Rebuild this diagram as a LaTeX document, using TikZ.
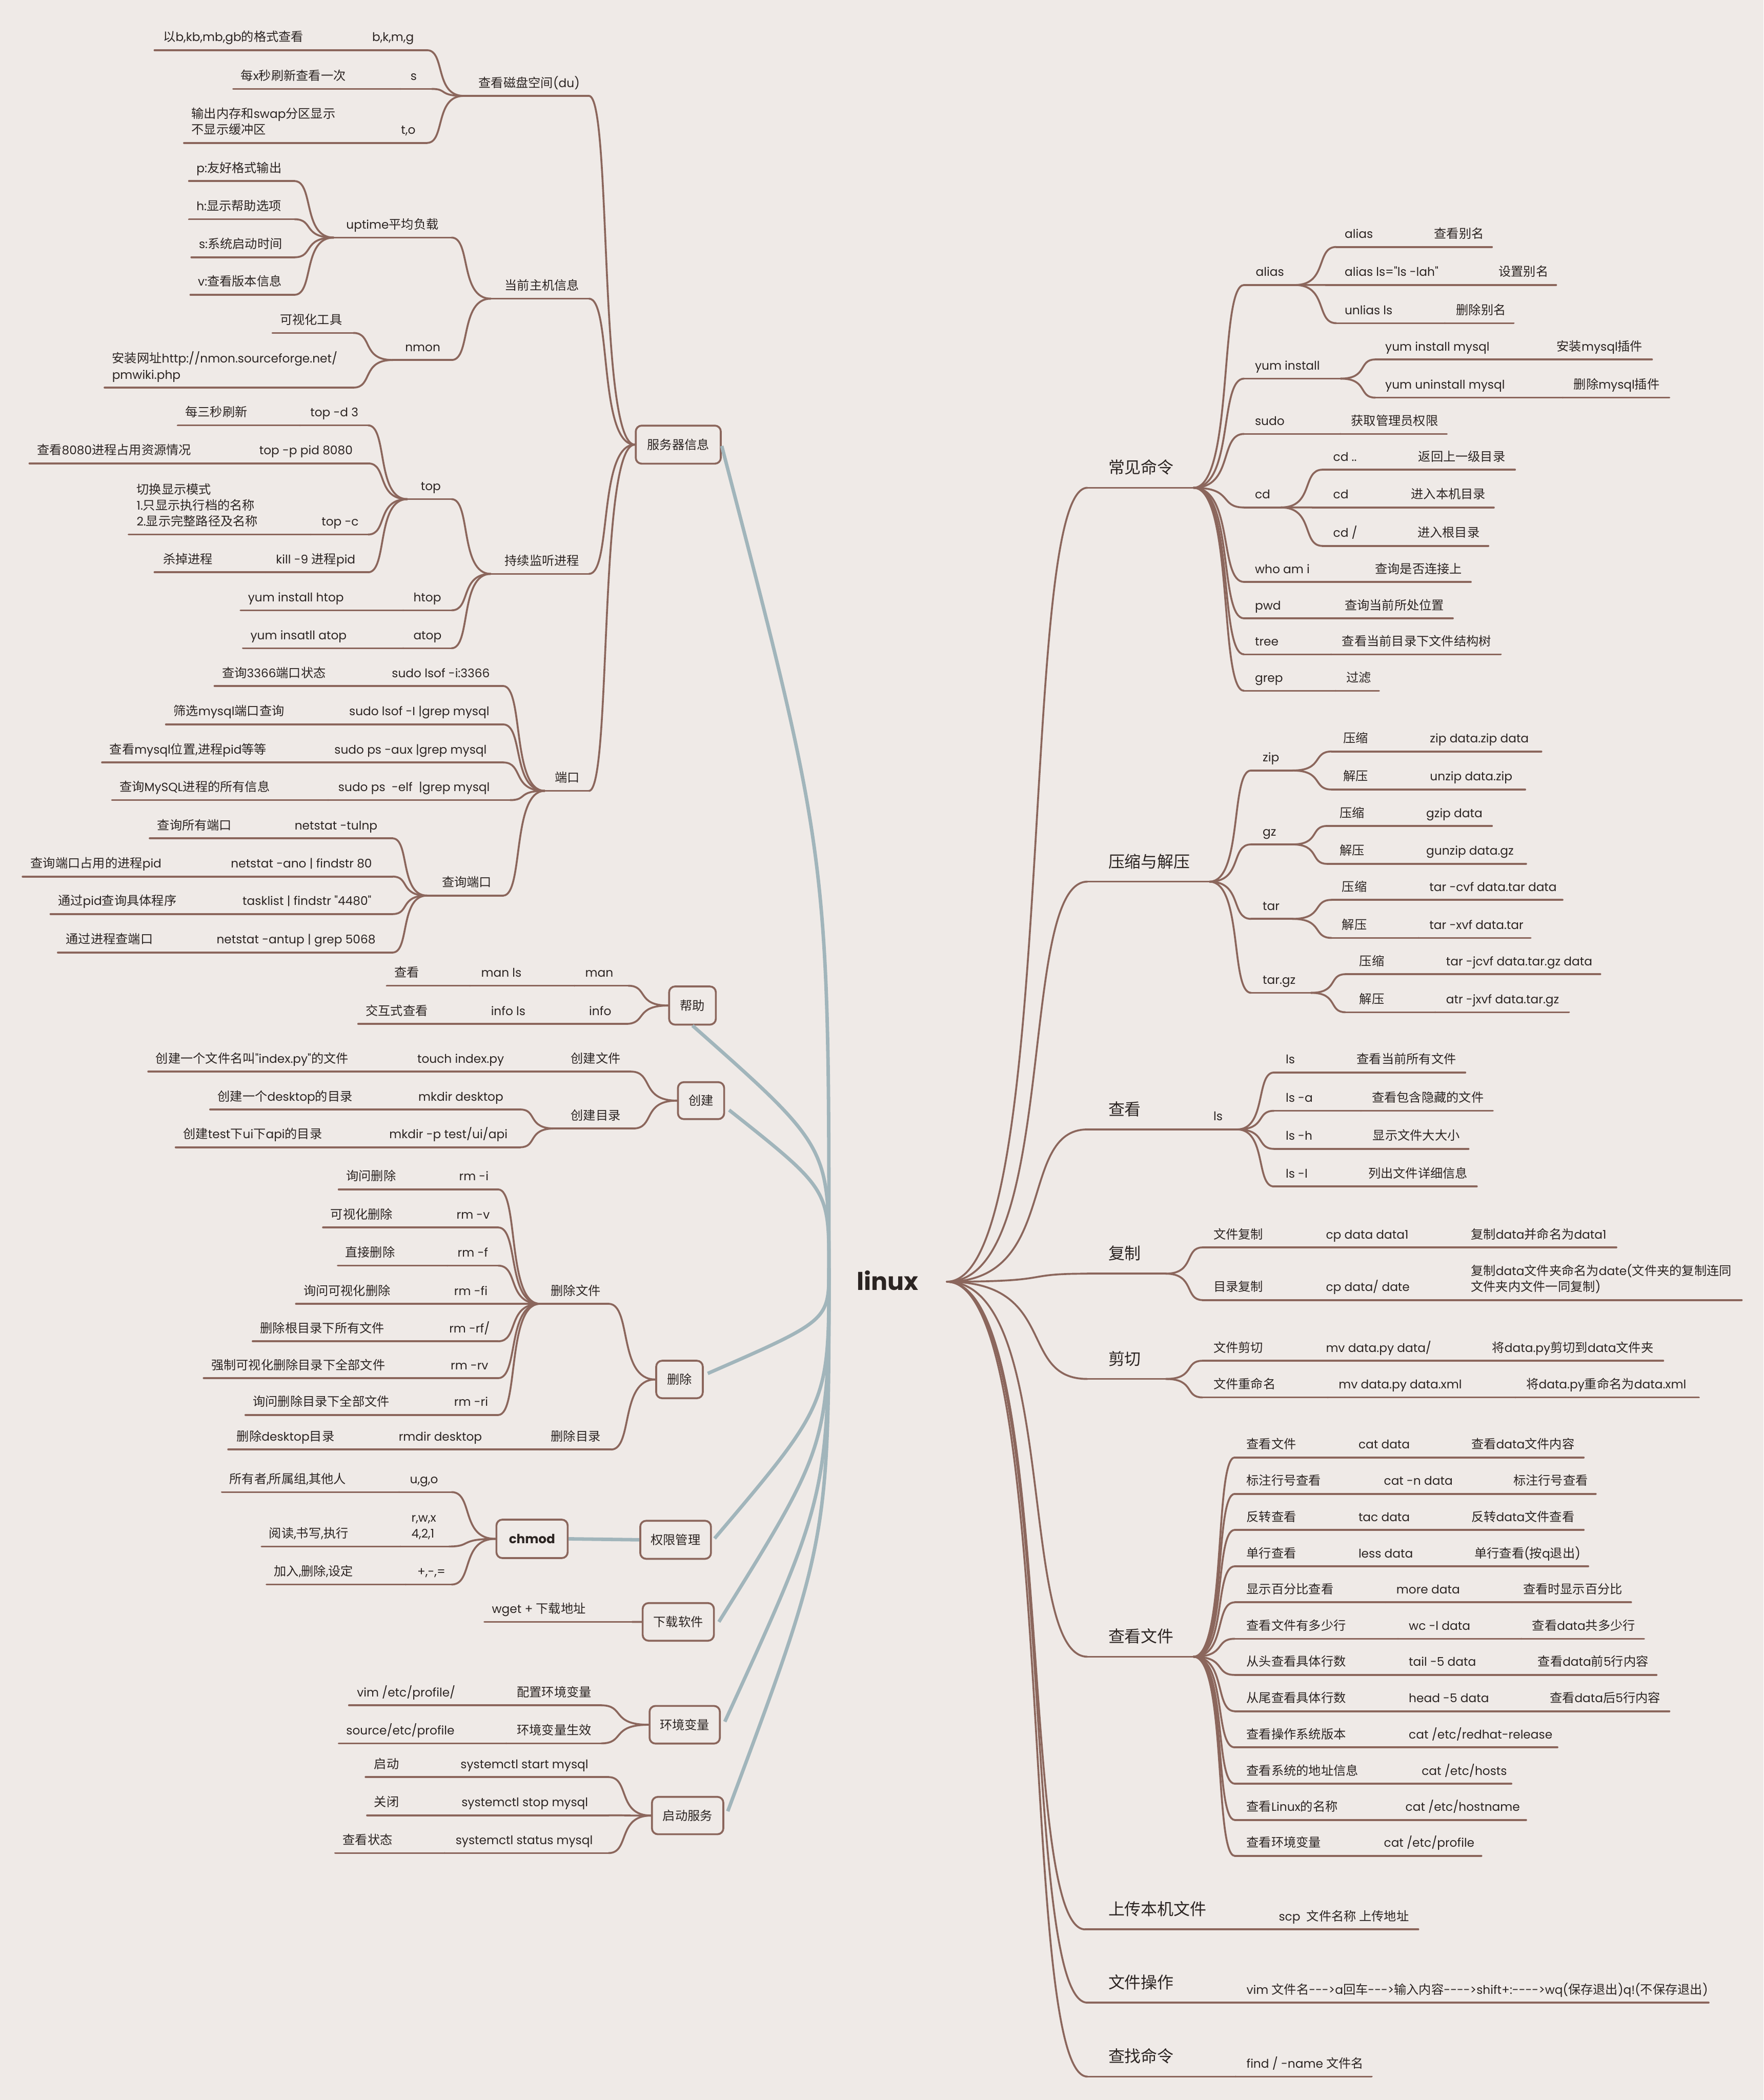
\documentclass[tikz,border=0pt]{standalone}
\usepackage{fontspec}
\setmainfont{Noto Sans CJK SC}
\newfontfamily\latfam{Poppins}[Scale=0.96]
\usetikzlibrary{calc}
\XeTeXinterchartokenstate=1
\newcount\cjkc
\def\setcjk#1#2{\cjkc=#1\relax\loop\XeTeXcharclass\cjkc=10\relax\advance\cjkc by 1\relax\ifnum\cjkc<#2\repeat}
\setcjk{"4E00}{"A000}
\setcjk{"3000}{"3040}
\setcjk{"FF00}{"FFF0}
\XeTeXinterchartoks 4095 0 = {\latfam}
\XeTeXinterchartoks 10 0 = {\latfam}
\XeTeXinterchartoks 0 10 = {\rmfamily}
\XeTeXinterchartoks 4095 10 = {\rmfamily}
\definecolor{bgc}{HTML}{EFEAE7}
\definecolor{brn}{HTML}{8B665C}
\definecolor{blu}{HTML}{A1B5BB}
\definecolor{ink}{HTML}{2B2422}
\newcommand\hy{-\kern0pt}
\newcommand\ml[1]{\begin{tabular}[b]{@{}l@{}}#1\end{tabular}}
\tikzset{
  br/.style={draw=brn, line width=2pt, line cap=round, line join=round},
  bl/.style={draw=blu, line width=3.7pt},
  smt/.style={font=\fontsize{13.2}{17}\selectfont, text=ink, inner sep=0pt, anchor=base west},
  bgt/.style={font=\fontsize{17.4}{21}\selectfont, text=ink, inner sep=0pt, anchor=base west},
  bx/.style={draw=brn, line width=2pt, rounded corners=0.22cm, fill=bgc, inner sep=0pt,
    font=\fontsize{13.2}{17}\selectfont, text=ink},
  crv/.style={to path={.. controls ($(\tikztostart)!0.8!(\tikztostart -| \tikztotarget)$) and ($(\tikztotarget)!0.5!(\tikztotarget -| \tikztostart)$) .. (\tikztotarget)}}
}
\newcommand\ns[6]{\coordinate (#1-l) at (#2,#4);\coordinate (#1-r) at (#3,#4);\draw[br] (#1-l) -- (#1-r);\node[smt] (#1) at (#5,#4-6.5) {#6};}
\newcommand\nb[6]{\coordinate (#1-l) at (#2,#4);\coordinate (#1-r) at (#3,#4);\draw[br] (#1-l) -- (#1-r);\node[bgt] (#1) at (#5,#4-10.5) {#6};}
\newcommand\cv[2]{\draw[br] (#1) to[crv] (#2);}
\newcommand\cvs[2]{\foreach \q in {#2}{\cv{#1}{\q-l}}}
\newcommand\cvl[2]{\foreach \q in {#2}{\cv{#1}{\q-r}}}
\newcommand\bxn[6]{\node[bx, minimum width=#4*0.05cm-0.05cm, minimum height=#5*0.05cm-0.05cm] (#1) at (#2,#3) {#6};}
\begin{document}
\begin{tikzpicture}[x=0.05cm,y=-0.05cm]
\useasboundingbox (0,0) rectangle (1317,1568);
\fill[bgc] (0,0) rectangle (1317,1568);

% ---------- centre ----------
\node[font=\fontsize{27}{30}\selectfont\bfseries, text=ink, inner sep=0pt, anchor=base west] (linux) at (639.6,963.4) {linux};
\coordinate (lx) at (707,957);
\coordinate (O) at (619,947);

% ---------- boxes (left) ----------
\bxn{fwq}{506.5}{332}{64.5}{29.4}{服务器信息}
\bxn{bz}{517.1}{750.8}{35.9}{29.5}{帮助}
\bxn{cjb}{523.5}{821.8}{35.5}{28.6}{创建}
\bxn{scb}{507.4}{1030}{35.8}{29}{删除}
\bxn{qx}{504.5}{1149.7}{53.8}{29.4}{权限管理}
\bxn{chm}{397.3}{1149}{54.2}{29.7}{\fontsize{14}{17}\selectfont\bfseries chmod}
\bxn{xz}{506.5}{1211}{54.2}{29.1}{下载软件}
\bxn{hj}{511.3}{1287.8}{53.5}{29.1}{环境变量}
\bxn{qd}{513.5}{1355.6}{54.3}{28.9}{启动服务}

\coordinate (fwq-e) at ($(fwq.east)+(0,1)$);
\coordinate (bz-e) at (bz.south);
\coordinate (cjb-e) at ($(cjb.east)+(3,7)$);
\coordinate (scb-e) at ($(scb.east)+(3,-4.5)$);
\coordinate (qx-e) at ($(qx.east)+(2,-1)$);
\coordinate (xz-e) at ($(xz.east)+(3,0)$);
\coordinate (hj-e) at ($(hj.east)+(3,-2.3)$);
\coordinate (qd-e) at ($(qd.east)+(2.6,-3.2)$);
\draw[bl] (O) .. controls (619,640) .. (fwq-e);
\draw[bl] (O) .. controls (619,856) .. (bz-e);
\draw[bl] (O) .. controls (619,888) .. (cjb-e);
\draw[bl] (O) .. controls (619,986) .. (scb-e);
\draw[bl] (O) .. controls (619,1048) .. (qx-e);
\draw[bl] (O) .. controls (619,1079) .. (xz-e);
\draw[bl] (O) .. controls (619,1116) .. (hj-e);
\draw[bl] (O) .. controls (619,1150) .. (qd-e);
\draw[bl] (chm.east) -- (qx.west);

% ---------- right branches ----------
\nb{cj}{812}{891.2}{364.2}{827.5}{常见命令}
\nb{ys}{812}{903.2}{658.3}{827.5}{压缩与解压}
\nb{ck}{812}{895}{843.3}{827.5}{查看}
\nb{fz}{812}{870.5}{951}{827.5}{复制}
\nb{jq}{812}{870.5}{1029.6}{827.5}{剪切}
\nb{ckwj}{812}{891.2}{1237}{827.5}{查看文件}
\nb{scbj}{810.3}{946.8}{1440.6}{827.5}{上传本机文件}
\nb{wjcz}{812}{922.7}{1495.3}{827.5}{文件操作}
\nb{czml}{812}{922.7}{1550.5}{827.5}{查找命令}
\cvs{lx}{cj,ys,ck,fz,jq,ckwj,scbj,wjcz,czml}

% 常见命令
\ns{a1}{929}{967}{212.8}{937.6}{alias}
\ns{a2}{997.8}{1062}{184.4}{1004}{alias}
\ns{a2d}{1062}{1114.1}{184.4}{1070.8}{查看别名}
\ns{a3}{990}{1111}{212.8}{1004}{alias ls="ls -lah"}
\ns{a3d}{1111}{1162}{212.8}{1119}{设置别名}
\ns{a4}{997.8}{1079}{241.3}{1004}{unlias ls}
\ns{a4d}{1079}{1130.3}{241.3}{1087.3}{删除别名}
\ns{y1}{929}{1001}{282.7}{937}{yum install}
\ns{y2}{1027}{1154}{268.4}{1034.3}{yum install mysql}
\ns{y2d}{1154}{1233.6}{268.4}{1162.3}{安装mysql插件}
\ns{y3}{1027}{1167}{296.9}{1034.3}{yum uninstall mysql}
\ns{y3d}{1167}{1246.6}{296.9}{1175}{删除mysql插件}
\ns{su}{929}{1000.8}{324}{937}{sudo}
\ns{sud}{1000.8}{1080.4}{324}{1008.8}{获取管理员权限}
\ns{cd1}{929}{956.5}{378.9}{937}{cd}
\ns{cd2}{987.5}{1051}{350.7}{995.4}{cd ..}
\ns{cd2d}{1051}{1131.3}{350.7}{1059}{返回上一级目录}
\ns{cd3}{980}{1045.6}{378.9}{995.4}{cd}
\ns{cd3d}{1045.6}{1115.5}{378.9}{1053.6}{进入本机目录}
\ns{cd4}{987.5}{1050.4}{407.6}{995.4}{cd /}
\ns{cd4d}{1050.4}{1111.4}{407.6}{1058.4}{进入根目录}
\ns{wh}{929}{1018.7}{434.5}{937}{who am i}
\ns{whd}{1018.7}{1098.3}{434.5}{1026.7}{查询是否连接上}
\ns{pw}{929}{996}{461.7}{937}{pwd}
\ns{pwx}{996}{1084.9}{461.7}{1004}{查询当前所处位置}
\ns{tr}{929}{994}{488.6}{937}{tree}
\ns{trd}{994}{1120.7}{488.6}{1002}{查看当前目录下文件结构树}
\ns{gr}{929}{997.4}{515.8}{937}{grep}
\ns{grd}{997.4}{1029.8}{515.8}{1005.4}{过滤}
\cvs{cj-r}{a1,y1,su,cd1,wh,pw,tr,gr}
\cvs{a1-r}{a2,a3,a4}\cvs{a2-r}{a2d}\cvs{a3-r}{a3d}\cvs{a4-r}{a4d}
\cvs{y1-r}{y2,y3}\cvs{y2-r}{y2d}\cvs{y3-r}{y3d}
\cvs{su-r}{sud}
\cvs{cd1-r}{cd2,cd3,cd4}\cvs{cd2-r}{cd2d}\cvs{cd3-r}{cd3d}\cvs{cd4-r}{cd4d}
\cvs{wh-r}{whd}\cvs{pw-r}{pwx}\cvs{tr-r}{trd}\cvs{gr-r}{grd}

% 压缩与解压
\ns{zp}{934.2}{965.1}{575.3}{942.8}{zip}
\ns{zp1}{994.4}{1059.7}{561.1}{1003}{压缩}
\ns{zp1d}{1059.7}{1151}{561.1}{1067.7}{zip data.zip data}
\ns{zp2}{994.4}{1059.7}{589.5}{1003}{解压}
\ns{zp2d}{1059.7}{1138.9}{589.5}{1067.7}{unzip data.zip}
\ns{gz}{934.2}{965.1}{630.5}{942.8}{gz}
\ns{gz1}{991}{1056.9}{616.7}{1000.2}{压缩}
\ns{gz1d}{1056.9}{1114.1}{616.7}{1064.9}{gzip data}
\ns{gz2}{991}{1056.9}{645}{1000.2}{解压}
\ns{gz2d}{1056.9}{1139.6}{645}{1064.9}{gunzip data.gz}
\ns{ta}{934.2}{965.1}{686.1}{942.8}{tar}
\ns{ta1}{994.4}{1059.3}{671.9}{1002}{压缩}
\ns{ta1d}{1059.3}{1166.8}{671.9}{1067.3}{tar -cvf data.tar data}
\ns{ta2}{994.4}{1059.3}{700.3}{1002}{解压}
\ns{ta2d}{1059.3}{1143}{700.3}{1067.3}{tar -xvf data.tar}
\ns{tg}{934.2}{978.9}{741.3}{942.8}{tar.gz}
\ns{tg1}{1004.7}{1071.7}{727.4}{1015}{压缩}
\ns{tg1d}{1071.7}{1195}{727.4}{1079.7}{tar -jcvf data.tar.gz data}
\ns{tg2}{1004.7}{1071.7}{755.8}{1015}{解压}
\ns{tg2d}{1071.7}{1171.6}{755.8}{1079.7}{atr -jxvf data.tar.gz}
\cvs{ys-r}{zp,gz,ta,tg}
\cvs{zp-r}{zp1,zp2}\cvs{zp1-r}{zp1d}\cvs{zp2-r}{zp2d}
\cvs{gz-r}{gz1,gz2}\cvs{gz1-r}{gz1d}\cvs{gz2-r}{gz2d}
\cvs{ta-r}{ta1,ta2}\cvs{ta1-r}{ta1d}\cvs{ta2-r}{ta2d}
\cvs{tg-r}{tg1,tg2}\cvs{tg1-r}{tg1d}\cvs{tg2-r}{tg2d}

% 查看
\ns{ls0}{895}{923.8}{843.3}{906}{ls}
\ns{ls1}{951.4}{1005}{800.8}{960}{ls}
\ns{ls1d}{1005}{1094.2}{800.8}{1013}{查看当前所有文件}
\ns{ls2}{951.4}{1016.3}{829.4}{960}{ls -a}
\ns{ls2d}{1016.3}{1114.8}{829.4}{1024.3}{查看包含隐藏的文件}
\ns{ls3}{951.4}{1017}{857.8}{960}{ls -h}
\ns{ls3d}{1017}{1096.6}{857.8}{1025}{显示文件大大小}
\ns{ls4}{951.4}{1013.6}{885.9}{960}{ls -l}
\ns{ls4d}{1013.6}{1102.8}{885.9}{1021.6}{列出文件详细信息}
\cvs{ck-r}{ls0}
\cvs{ls0-r}{ls1,ls2,ls3,ls4}\cvs{ls1-r}{ls1d}\cvs{ls2-r}{ls2d}\cvs{ls3-r}{ls3d}\cvs{ls4-r}{ls4d}

% 复制
\ns{fz1}{898}{982}{931.4}{906}{文件复制}
\ns{fz1a}{982}{1090.3}{931.4}{990}{cp data data1}
\ns{fz1b}{1090.3}{1207}{931.4}{1098.3}{复制data并命名为data1}
\ns{fz2}{898}{982}{970.7}{906}{目录复制}
\ns{fz2a}{982}{1090.3}{970.7}{990}{cp data/ date}
\ns{fz2b}{1090.3}{1300.6}{970.7}{1098.3}{\ml{复制data文件夹命名为date(文件夹的复制连同\\文件夹内文件一同复制)}}
\cvs{fz-r}{fz1,fz2}\cvs{fz1-r}{fz1a}\cvs{fz1a-r}{fz1b}\cvs{fz2-r}{fz2a}\cvs{fz2a-r}{fz2b}

% 剪切
\ns{jq1}{898}{982}{1016}{906}{文件剪切}
\ns{jq1a}{982}{1106.1}{1016}{990}{mv data.py data/}
\ns{jq1b}{1106.1}{1242}{1016}{1114.1}{将data.py剪切到data文件夹}
\ns{jq2}{898}{991.5}{1043.4}{906}{文件重命名}
\ns{jq2a}{991.5}{1131.6}{1043.4}{999.5}{mv data.py data.xml}
\ns{jq2b}{1131.6}{1268.6}{1043.4}{1139.6}{将data.py重命名为data.xml}
\cvs{jq-r}{jq1,jq2}\cvs{jq1-r}{jq1a}\cvs{jq1a-r}{jq1b}\cvs{jq2-r}{jq2a}\cvs{jq2a-r}{jq2b}

% 查看文件
\ns{f1}{922.1}{1006.3}{1088.2}{930.7}{查看文件}
\ns{f1a}{1006.3}{1090.6}{1088.2}{1014.3}{cat data}
\ns{f1b}{1090.6}{1182.6}{1088.2}{1098.6}{查看data文件内容}
\ns{f2}{922.1}{1025.3}{1115.4}{930.7}{标注行号查看}
\ns{f2a}{1025.3}{1122}{1115.4}{1033.3}{cat -n data}
\ns{f2b}{1122}{1191.6}{1115.4}{1130}{标注行号查看}
\ns{f3}{922.1}{1006.3}{1142.3}{930.7}{反转查看}
\ns{f3a}{1006.3}{1090.6}{1142.3}{1014.3}{tac data}
\ns{f3b}{1090.6}{1182.6}{1142.3}{1098.6}{反转data文件查看}
\ns{f4}{922.1}{1006.3}{1169.5}{930.7}{单行查看}
\ns{f4a}{1006.3}{1093}{1169.5}{1014.3}{less data}
\ns{f4b}{1093}{1186}{1169.5}{1101}{单行查看(按q退出)}
\ns{f5}{922.1}{1034.6}{1196.4}{930.7}{显示百分比查看}
\ns{f5a}{1034.6}{1129.2}{1196.4}{1042.6}{more data}
\ns{f5b}{1129.2}{1218}{1196.4}{1137.2}{查看时显示百分比}
\ns{f6}{922.1}{1043.9}{1223.6}{930.7}{查看文件有多少行}
\ns{f6a}{1043.9}{1136}{1223.6}{1051.9}{wc -l data}
\ns{f6b}{1136}{1227.7}{1223.6}{1144}{查看data共多少行}
\ns{f7}{922.1}{1043.9}{1250.6}{930.7}{从头查看具体行数}
\ns{f7a}{1043.9}{1140.2}{1250.6}{1051.9}{tail -5 data}
\ns{f7b}{1140.2}{1237}{1250.6}{1148.2}{查看data前5行内容}
\ns{f8}{922.1}{1043.9}{1277.7}{930.7}{从尾查看具体行数}
\ns{f8a}{1043.9}{1149.1}{1277.7}{1051.9}{head -5 data}
\ns{f8b}{1149.1}{1246.6}{1277.7}{1157.1}{查看data后5行内容}
\ns{f9}{922.1}{1043.9}{1304.7}{930.7}{查看操作系统版本}
\ns{f9a}{1043.9}{1163}{1304.7}{1051.9}{cat /etc/redhat-release}
\ns{f10}{922.1}{1053.5}{1331.8}{930.7}{查看系统的地址信息}
\ns{f10a}{1053.5}{1128.6}{1331.8}{1061.5}{cat /etc/hosts}
\ns{f11}{922.1}{1041.4}{1358.9}{930.7}{查看Linux的名称}
\ns{f11a}{1041.4}{1139.6}{1358.9}{1049.4}{cat /etc/hostname}
\ns{f12}{922.1}{1025.3}{1385.7}{930.7}{查看环境变量}
\ns{f12a}{1025.3}{1106.2}{1385.7}{1033.3}{cat /etc/profile}
\cvs{ckwj-r}{f1,f2,f3,f4,f5,f6,f7,f8,f9,f10,f11,f12}
\cvs{f1-r}{f1a}\cvs{f1a-r}{f1b}\cvs{f2-r}{f2a}\cvs{f2a-r}{f2b}
\cvs{f3-r}{f3a}\cvs{f3a-r}{f3b}\cvs{f4-r}{f4a}\cvs{f4a-r}{f4b}
\cvs{f5-r}{f5a}\cvs{f5a-r}{f5b}\cvs{f6-r}{f6a}\cvs{f6a-r}{f6b}
\cvs{f7-r}{f7a}\cvs{f7a-r}{f7b}\cvs{f8-r}{f8a}\cvs{f8a-r}{f8b}
\cvs{f9-r}{f9a}\cvs{f10-r}{f10a}\cvs{f11-r}{f11a}\cvs{f12-r}{f12a}

% bottom right
\ns{sc1}{946.8}{1059.1}{1440.6}{954.8}{scp\ \ 文件名称 上传地址}
\ns{wj1}{922.7}{1275.9}{1495.3}{930.7}{vim 文件名\hy\hy\hy>a回车\hy\hy\hy>输入内容\hy\hy\hy\hy>shift+:\hy\hy\hy\hy>wq(保存退出)q!(不保存退出)}
\ns{cz1}{922.7}{1024.3}{1550.5}{930.7}{find / -name 文件名}
\cvs{scbj-r}{sc1}\cvs{wjcz-r}{wj1}\cvs{czml-r}{cz1}

% ---------- left: 服务器信息 ----------
\ns{du}{346.3}{439.8}{71.6}{357.3}{查看磁盘空间(du)}
\ns{du1}{270}{318.9}{37.5}{277.8}{b,k,m,g}
\ns{du1g}{115.4}{270}{37.5}{121.7}{以b,kb,mb,gb的格式查看}
\ns{du2}{299}{322.5}{66.4}{306.4}{s}
\ns{du2g}{174.1}{299}{66.4}{179.6}{每x秒刷新查看一次}
\ns{du3}{292}{318.9}{106.7}{299.4}{t,o}
\ns{du3g}{137.4}{292}{106.7}{142.9}{\ml{输出内存和swap分区显示\\不显示缓冲区}}
\ns{zj}{366.5}{439.8}{223}{376.8}{当前主机信息}
\ns{up}{249.2}{337.2}{177.4}{258.4}{uptime平均负载}
\ns{up1}{141.1}{219.9}{135.2}{146.6}{p:友好格式输出}
\ns{up2}{141.1}{219.9}{163.7}{146.6}{h:显示帮助选项}
\ns{up3}{142.9}{219.9}{192.1}{148.4}{s:系统启动时间}
\ns{up4}{142.2}{219.9}{220.1}{147.7}{v:查看版本信息}
\ns{nm}{293.2}{337.2}{268.8}{302.4}{nmon}
\ns{nm1}{203.4}{263.9}{248.6}{208.9}{可视化工具}
\ns{nm2}{78.1}{263.9}{289.4}{83.6}{\ml{安装网址http://nmon.sourceforge.net/\\pmwiki.php}}
\ns{jt}{366.5}{439.8}{428.5}{376.8}{持续监听进程}
\ns{tp}{304.2}{337.2}{372.7}{314.1}{top}
\ns{tp1}{224}{274.9}{317.6}{231.6}{top -d 3}
\ns{tp1g}{132.7}{224}{317.6}{138.2}{每三秒刷新}
\ns{tp2}{186}{274.9}{346}{193.5}{top -p pid 8080}
\ns{tp2g}{22}{186}{346}{27.5}{查看8080进程占用资源情况}
\ns{tp3}{232}{274.9}{399.1}{240}{top -c}
\ns{tp3g}{96}{232}{399.1}{101.9}{\ml{切换显示模式\\1.只显示执行档的名称\\2.显示完整路径及名称}}
\ns{tp4}{198}{274.9}{427.3}{206}{kill -9 进程pid}
\ns{tp4g}{115.4}{198}{427.3}{121.7}{杀掉进程}
\ns{ht}{301}{337.2}{455.7}{308.6}{htop}
\ns{htg}{179.6}{301}{455.7}{185.1}{yum install htop}
\ns{atp}{301}{337.2}{484}{308.6}{atop}
\ns{atg}{181.4}{301}{484}{186.9}{yum insatll atop}
\ns{dk}{406.8}{439.8}{590.5}{414.1}{端口}
\ns{dk1}{285}{375.7}{512.2}{292.5}{sudo lsof -i:3366}
\ns{dk1g}{160.2}{285}{512.2}{165.7}{查询3366端口状态}
\ns{dk2}{253}{375.7}{540.9}{260.6}{sudo lsof -I |grep mysql}
\ns{dk2g}{123.9}{253}{540.9}{129.4}{筛选mysql端口查询}
\ns{dk3}{242}{375.7}{569.3}{249.6}{sudo ps -aux |grep mysql}
\ns{dk3g}{76.2}{242}{569.3}{81.7}{查看mysql位置,进程pid等等}
\ns{dk4}{245}{381}{597.4}{252.5}{sudo ps\ \ -elf\ \ |grep mysql}
\ns{dk4g}{83.6}{245}{597.4}{89.1}{查询MySQL进程的所有信息}
\ns{cx}{318.9}{375.7}{668.7}{329.9}{查询端口}
\ns{cx1}{212}{293.2}{626}{219.9}{netstat -tulnp}
\ns{cx1g}{111.8}{212}{626}{117.3}{查询所有端口}
\ns{cx2}{165}{293.2}{654.5}{172.3}{netstat -ano | findstr 80}
\ns{cx2g}{16.9}{165}{654.5}{22.7}{查询端口占用的进程pid}
\ns{cx3}{173}{293.2}{682.5}{181}{tasklist | findstr "4480"}
\ns{cx3g}{37.7}{173}{682.5}{43.2}{通过pid查询具体程序}
\ns{cx4}{154}{293.2}{711.2}{161.6}{netstat -antup | grep 5068}
\ns{cx4g}{43.2}{154}{711.2}{49.1}{通过进程查端口}
\cvl{fwq.west}{du,zj,jt,dk}
\cvl{du-l}{du1,du2,du3}\cvl{du1-l}{du1g}\cvl{du2-l}{du2g}\cvl{du3-l}{du3g}
\cvl{zj-l}{up,nm}\cvl{up-l}{up1,up2,up3,up4}\cvl{nm-l}{nm1,nm2}
\cvl{jt-l}{tp,ht,atp}\cvl{tp-l}{tp1,tp2,tp3,tp4}
\cvl{tp1-l}{tp1g}\cvl{tp2-l}{tp2g}\cvl{tp3-l}{tp3g}\cvl{tp4-l}{tp4g}
\cvl{ht-l}{htg}\cvl{atp-l}{atg}
\cvl{dk-l}{dk1,dk2,dk3,dk4,cx}
\cvl{dk1-l}{dk1g}\cvl{dk2-l}{dk2g}\cvl{dk3-l}{dk3g}\cvl{dk4-l}{dk4g}
\cvl{cx-l}{cx1,cx2,cx3,cx4}
\cvl{cx1-l}{cx1g}\cvl{cx2-l}{cx2g}\cvl{cx3-l}{cx3g}\cvl{cx4-l}{cx4g}

% ---------- 帮助 ----------
\ns{bz1}{429}{469.1}{736}{436.9}{man}
\ns{bz1a}{351}{429}{736}{359.2}{man ls}
\ns{bz1b}{288.8}{351}{736}{294.3}{查看}
\ns{bz2}{432}{467.3}{764.5}{439.8}{info}
\ns{bz2a}{358}{432}{764.5}{366.5}{info ls}
\ns{bz2b}{267.5}{358}{764.5}{273}{交互式查看}
\cvl{bz.west}{bz1,bz2}\cvl{bz1-l}{bz1a}\cvl{bz1a-l}{bz1b}\cvl{bz2-l}{bz2a}\cvl{bz2a-l}{bz2b}

% ---------- 创建 ----------
\ns{cw}{418}{471}{800.1}{426.2}{创建文件}
\ns{cwa}{303}{418}{800.1}{311.5}{touch index.py}
\ns{cwb}{110.7}{303}{800.1}{116.2}{创建一个文件名叫"index.py"的文件}
\ns{cm}{414}{472.8}{842.6}{426.2}{创建目录}
\ns{cm1}{304}{388.5}{828.4}{312.3}{mkdir desktop}
\ns{cm1g}{156.9}{304}{828.4}{162.4}{创建一个desktop的目录}
\ns{cm2}{283}{388.5}{856.6}{290.6}{mkdir -p test/ui/api}
\ns{cm2g}{131.2}{283}{856.6}{136.7}{创建test下ui下api的目录}
\cvl{cjb.west}{cw,cm}\cvl{cw-l}{cwa}\cvl{cwa-l}{cwb}\cvl{cm-l}{cm1,cm2}\cvl{cm1-l}{cm1g}\cvl{cm2-l}{cm2g}

% ---------- 删除 ----------
\ns{sw}{403.2}{454.5}{973.5}{411.2}{删除文件}
\ns{rm1}{335}{372}{888.1}{342.7}{rm -i}
\ns{rm1g}{252.9}{335}{888.1}{258.4}{询问删除}
\ns{rm2}{333}{372}{916.5}{340.8}{rm -v}
\ns{rm2g}{241.2}{333}{916.5}{246.7}{可视化删除}
\ns{rm3}{334}{372}{945}{341.6}{rm -f}
\ns{rm3g}{252.2}{334}{945}{257.6}{直接删除}
\ns{rm4}{331}{372}{973.5}{339}{rm -fi}
\ns{rm4g}{221}{331}{973.5}{226.5}{询问可视化删除}
\ns{rm5}{328}{372}{1001.5}{335.3}{rm -rf/}
\ns{rm5g}{188.7}{328}{1001.5}{194.2}{删除根目录下所有文件}
\ns{rm6}{329}{372}{1029}{336.4}{rm -rv}
\ns{rm6g}{152.1}{329}{1029}{157.6}{强制可视化删除目录下全部文件}
\ns{rm7}{331}{372}{1056.5}{339}{rm -ri}
\ns{rm7g}{183.3}{331}{1056.5}{188.7}{询问删除目录下全部文件}
\ns{sdm}{403}{456.3}{1082.3}{411.2}{删除目录}
\ns{sdma}{290}{403}{1082.3}{297.6}{rmdir desktop}
\ns{sdmb}{170.4}{290}{1082.3}{176.7}{删除desktop目录}
\cvl{scb.west}{sw,sdm}
\cvl{sw-l}{rm1,rm2,rm3,rm4,rm5,rm6,rm7}
\cvl{rm1-l}{rm1g}\cvl{rm2-l}{rm2g}\cvl{rm3-l}{rm3g}\cvl{rm4-l}{rm4g}\cvl{rm5-l}{rm5g}\cvl{rm6-l}{rm6g}\cvl{rm7-l}{rm7g}
\cvl{sdm-l}{sdma}\cvl{sdma-l}{sdmb}

% ---------- chmod ----------
\ns{ch1}{298}{337.2}{1114.1}{306}{u,g,o}
\ns{ch1g}{165.7}{298}{1114.1}{171.2}{所有者,所属组,其他人}
\ns{ch2}{299}{335.3}{1154.7}{307.1}{\ml{r,w,x\\4,2,1}}
\ns{ch2g}{195.3}{299}{1154.7}{200.8}{阅读,书写,执行}
\ns{ch3}{303}{337.2}{1183.1}{311.5}{+,-,=}
\ns{ch3g}{199}{303}{1183.1}{204.5}{加入,删除,设定}
\cvl{chm.west}{ch1,ch2,ch3}\cvl{ch1-l}{ch1g}\cvl{ch2-l}{ch2g}\cvl{ch3-l}{ch3g}

% ---------- 下载软件 / 环境变量 / 启动服务 ----------
\ns{xz1}{361.7}{472}{1211}{367.2}{wget + 下载地址}
\cvl{xz.west}{xz1}
\ns{hj1}{378}{449}{1273.3}{385.9}{配置环境变量}
\ns{hj1g}{260.6}{378}{1273.3}{266.4}{vim /etc/profile/}
\ns{hj2}{378}{449}{1301.7}{385.9}{环境变量生效}
\ns{hj2g}{252.9}{378}{1301.7}{258.4}{source/etc/profile}
\cvl{hj.west}{hj1,hj2}\cvl{hj1-l}{hj1g}\cvl{hj2-l}{hj2g}
\ns{qd1}{336}{454.5}{1326.9}{343.8}{systemctl start mysql}
\ns{qd1g}{273}{336}{1326.9}{279.3}{启动}
\ns{qd2}{336}{454.5}{1355.4}{344.5}{systemctl stop mysql}
\ns{qd2g}{274.1}{336}{1355.4}{279.3}{关闭}
\ns{qd3}{332}{454.5}{1383.6}{340.1}{systemctl status mysql}
\ns{qd3g}{250.3}{332}{1383.6}{255.8}{查看状态}
\cvl{qd.west}{qd1,qd2,qd3}\cvl{qd1-l}{qd1g}\cvl{qd2-l}{qd2g}\cvl{qd3-l}{qd3g}
\end{tikzpicture}
\end{document}
